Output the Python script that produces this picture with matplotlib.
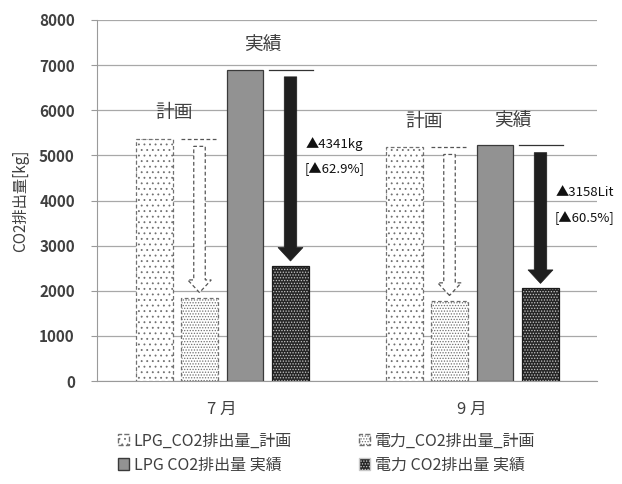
import matplotlib
matplotlib.use("Agg")
import matplotlib.pyplot as plt
from matplotlib.patches import FancyArrow, Patch
import numpy as np

plt.rcParams['font.family'] = ['Noto Sans CJK JP', 'DejaVu Sans']
plt.rcParams['hatch.linewidth'] = 0.6

months = ['7 月', '9 月']
lpg_plan = [5370, 5190]
elec_plan = [1840, 1775]
lpg_actual = [6900, 5220]
elec_actual = [2559, 2062]
reduction_units = ['kg', 'Lit']
legend_labels = ['LPG_CO2排出量_計画', 'LPG CO2排出量 実績',
                 '電力_CO2排出量_計画', '電力 CO2排出量 実績']
yticks = [0, 1000, 2000, 3000, 4000, 5000, 6000, 7000, 8000]

TXT = '#404040'
fig = plt.figure(figsize=(6.22, 4.84), dpi=100)
ax = fig.add_axes([97 / 622, 103 / 484, 500 / 622, 361 / 484])

x = np.arange(len(months))
w = 0.146
offs = [-0.27, -0.09, 0.092, 0.274]

# planned bars: dotted fills with dashed outlines
ax.bar(x + offs[0], lpg_plan, w, facecolor='white', edgecolor='#707070',
       hatch='...', linestyle=(0, (3, 2)), linewidth=0.9, zorder=3)
ax.bar(x + offs[1], elec_plan, w, facecolor='white', edgecolor='#707070',
       hatch='......', linestyle=(0, (3, 2)), linewidth=0.9, zorder=3)
# actual bars
ax.bar(x + offs[2], lpg_actual, w, facecolor='#929292', edgecolor='#3a3a3a',
       linewidth=0.9, zorder=3)
ax.bar(x + offs[3], elec_actual, w, facecolor='#262626', edgecolor='#c8c8c8',
       hatch='......', linewidth=0, zorder=3)
ax.bar(x + offs[3], elec_actual, w, facecolor='none', edgecolor='#1a1a1a',
       linewidth=0.9, zorder=4)

ax.set_ylim(0, 8000)
ax.set_xlim(-0.5, 1.5)
ax.set_yticks(yticks)
ax.set_yticklabels([str(v) for v in yticks], fontsize=11, color=TXT,
                   fontweight='bold')
ax.set_xticks(x)
ax.set_xticklabels(months, fontsize=12, color=TXT)
ax.tick_params(axis='x', length=0, pad=14)
ax.tick_params(axis='y', length=4, color='#9a9a9a', pad=12)
ax.grid(axis='y', color='#a8a8a8', linewidth=0.9, zorder=0)
for s in ['top', 'right']:
    ax.spines[s].set_visible(False)
ax.spines['left'].set_color('#9a9a9a')
ax.spines['bottom'].set_color('#9a9a9a')
ax.set_ylabel('CO2排出量[kg]', fontsize=11, color=TXT, labelpad=7)

for i in range(len(months)):
    xe_p = x[i] + offs[1]
    xe_a = x[i] + offs[3]
    # reference lines at the LPG bar levels
    ax.plot([xe_p - w / 2, xe_p + w / 2], [lpg_plan[i], lpg_plan[i]],
            color='#555555', linestyle=(0, (3, 2)), linewidth=0.9, zorder=3)
    ax.plot([xe_a - w / 2 - 0.015, xe_a + w / 2 + 0.015],
            [lpg_actual[i], lpg_actual[i]], color='#333333', linewidth=0.9, zorder=3)
    # planned reduction arrow (dashed outline)
    ys, ye = lpg_plan[i] - 170, elec_plan[i] + 120
    ax.add_patch(FancyArrow(xe_p, ys, 0, ye - ys, width=0.046, head_width=0.094,
                            head_length=280, length_includes_head=True,
                            facecolor='white', edgecolor='#555555',
                            linestyle=(0, (3, 2)), linewidth=0.9, zorder=4))
    # actual reduction arrow (solid black)
    ys, ye = lpg_actual[i] - 160, elec_actual[i] + 100
    ax.add_patch(FancyArrow(xe_a, ys, 0, ye - ys, width=0.05, head_width=0.1,
                            head_length=300, length_includes_head=True,
                            facecolor='#1f1f1f', edgecolor='#1f1f1f',
                            linewidth=0.5, zorder=4))
    red = lpg_actual[i] - elec_actual[i]
    pct = red / lpg_actual[i] * 100
    ymid = (ys + ye) / 2
    ax.text(x[i] + 0.335, ymid + 560, f'▲{red}{reduction_units[i]}',
            fontsize=9.5, color='#111111', va='center', ha='left', zorder=5)
    ax.text(x[i] + 0.33, ymid, f'[▲{pct:.1f}%]',
            fontsize=9.5, color='#111111', va='center', ha='left', zorder=5)
    # group captions
    ax.text(x[i] - 0.19, lpg_plan[i] + 570, '計画', fontsize=13.5, color=TXT,
            ha='center', va='center', zorder=5)
    ax.text(x[i] + 0.165, lpg_actual[i] + 560, '実績', fontsize=13.5, color=TXT,
            ha='center', va='center', zorder=5)

handles = [
    Patch(facecolor='white', edgecolor='#707070', hatch='...', linestyle='--'),
    Patch(facecolor='#929292', edgecolor='#3a3a3a'),
    Patch(facecolor='white', edgecolor='#707070', hatch='......', linestyle='--'),
    Patch(facecolor='#262626', edgecolor='#c8c8c8', hatch='......'),
]
fig.legend(handles, legend_labels, loc='center', bbox_to_anchor=(0.525, 0.064),
           ncol=2, frameon=False, fontsize=11.5, handlelength=0.7, handleheight=0.7,
           handletextpad=0.3, columnspacing=4.2, labelspacing=0.45,
           labelcolor=TXT)

fig.savefig('out.png', dpi=100)
